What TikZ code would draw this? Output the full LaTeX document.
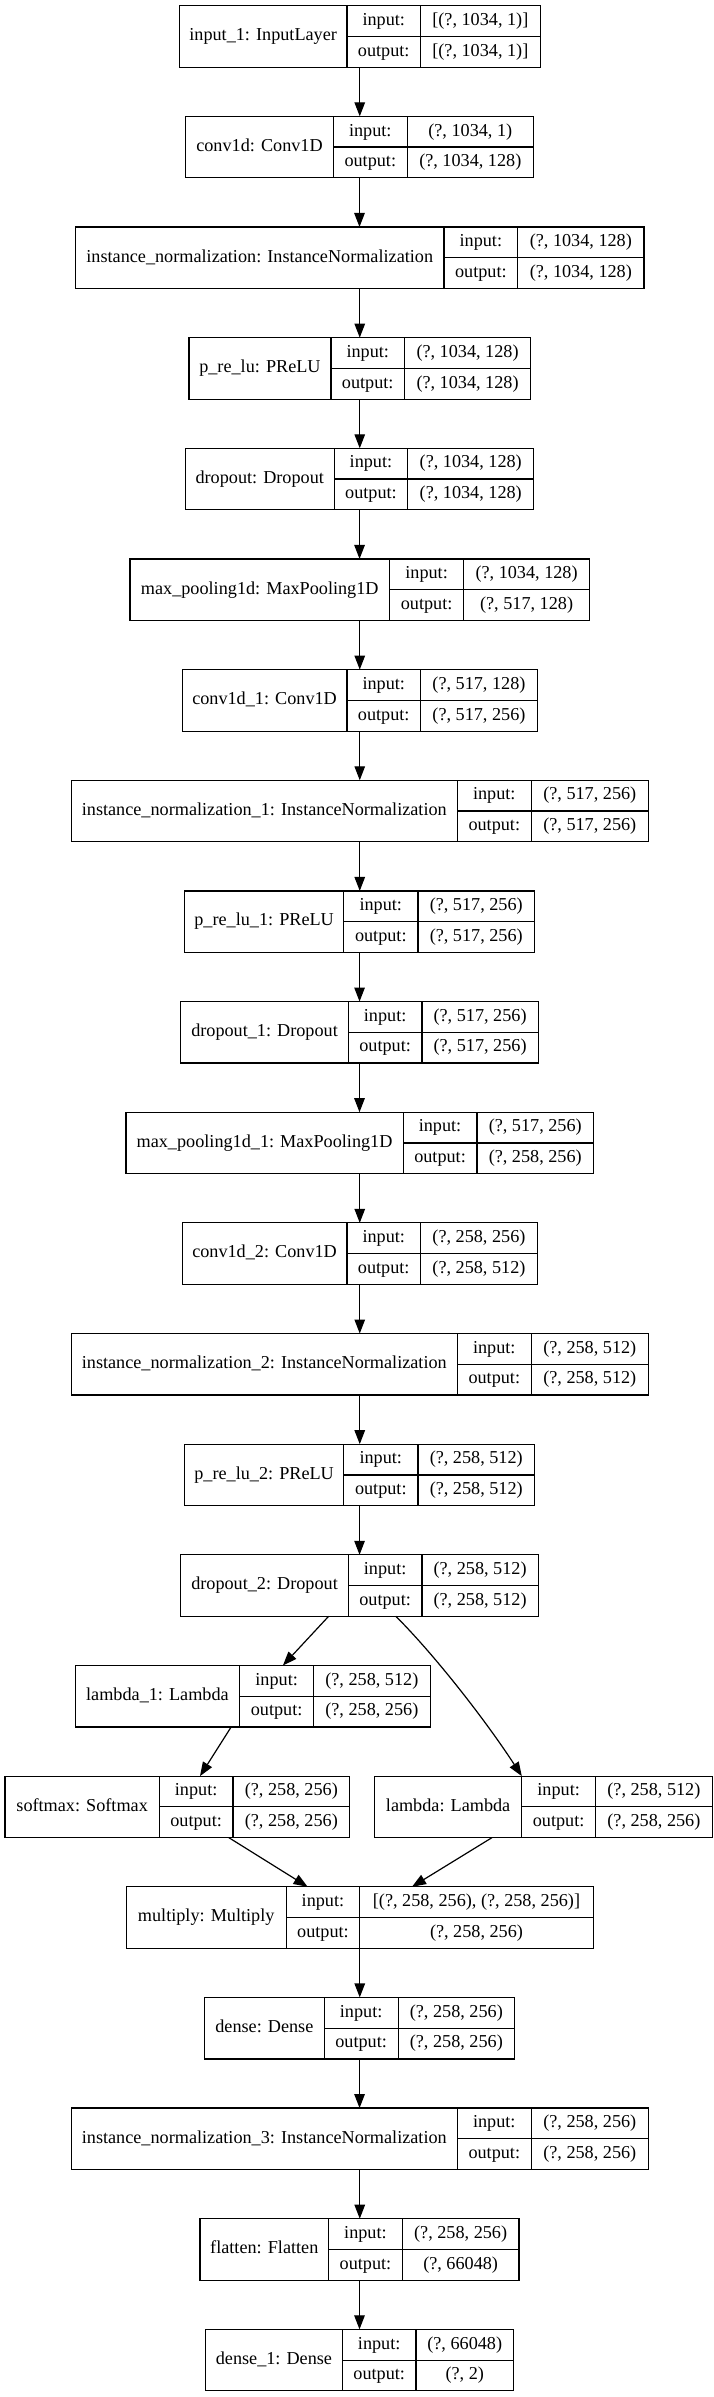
\documentclass[tikz,border=0pt]{standalone}
\usepackage{fontspec}
\setmainfont{Liberation Serif}
\usetikzlibrary{arrows.meta}
\newcommand\layer[9]{%
  \pgfmathsetmacro\lyt{5.7+(#2-1)*110.65}%
  \pgfmathsetmacro\lyb{\lyt+61.5}%
  \pgfmathsetmacro\lym{\lyt+30.75}%
  \pgfmathsetmacro\lxc{(#3+#6)/2}%
  \pgfmathsetmacro\lbw{#6-#3}%
  \pgfmathsetmacro\lxa{(#3+#4)/2}%
  \pgfmathsetmacro\lxb{(#4+#5)/2}%
  \pgfmathsetmacro\lxv{(#5+#6)/2}%
  \node[box, minimum width=\lbw pt] (#1) at (\lxc,\lym) {};
  \draw[cell] (#4,\lyt) -- (#4,\lyb) (#5,\lyt) -- (#5,\lyb) (#4,\lym) -- (#6,\lym);
  \node[lbl] (#1-t) at (\lxa,\lym+4.3) {#7};
  \node[lbl] (#1-il) at (\lxb,\lym-15.375+4.3) {input:};
  \node[lbl] (#1-ol) at (\lxb,\lym+15.375+4.3) {output:};
  \node[lbl] (#1-iv) at (\lxv,\lym-15.375+4.3) {#8};
  \node[lbl] (#1-ov) at (\lxv,\lym+15.375+4.3) {#9};
}
\begin{document}
\begin{tikzpicture}[x=1pt,y=-1pt,
  box/.style={draw=black, line width=1.2pt, minimum height=61.5pt, inner sep=0pt, outer sep=0pt},
  cell/.style={draw=black, line width=1.2pt},
  lbl/.style={anchor=base, inner sep=0pt, font=\fontsize{18.2}{20}\selectfont},
  arr/.style={draw=black, line width=1.2pt, -{Triangle[length=14pt,width=10.5pt]}}]
\useasboundingbox[fill=white] (0,0) rectangle (714,2397);
\layer{in1}{1}{179.4}{346.9}{420.6}{540.1}{input\_1: InputLayer}{[(?, 1034, 1)]}{[(?, 1034, 1)]}
\layer{c0}{2}{185.8}{333.2}{407.4}{533.2}{conv1d: Conv1D}{(?, 1034, 1)}{(?, 1034, 128)}
\layer{n0}{3}{75.5}{444.0}{517.7}{644.0}{instance\_normalization: InstanceNormalization}{(?, 1034, 128)}{(?, 1034, 128)}
\layer{p0}{4}{189.0}{330.9}{404.6}{530.5}{p\_re\_lu: PReLU}{(?, 1034, 128)}{(?, 1034, 128)}
\layer{d0}{5}{185.4}{334.1}{407.8}{533.7}{dropout: Dropout}{(?, 1034, 128)}{(?, 1034, 128)}
\layer{m0}{6}{130.0}{389.5}{463.7}{589.5}{max\_pooling1d: MaxPooling1D}{(?, 1034, 128)}{(?, 517, 128)}
\layer{c1}{7}{182.2}{346.9}{420.6}{537.3}{conv1d\_1: Conv1D}{(?, 517, 128)}{(?, 517, 256)}
\layer{n1}{8}{71.4}{457.2}{531.4}{648.1}{instance\_normalization\_1: InstanceNormalization}{(?, 517, 256)}{(?, 517, 256)}
\layer{p1}{9}{184.5}{343.7}{417.9}{534.6}{p\_re\_lu\_1: PReLU}{(?, 517, 256)}{(?, 517, 256)}
\layer{d1}{10}{180.8}{348.3}{422.0}{538.2}{dropout\_1: Dropout}{(?, 517, 256)}{(?, 517, 256)}
\layer{m1}{11}{125.9}{403.2}{476.9}{593.6}{max\_pooling1d\_1: MaxPooling1D}{(?, 517, 256)}{(?, 258, 256)}
\layer{c2}{12}{182.2}{346.9}{420.6}{537.3}{conv1d\_2: Conv1D}{(?, 258, 256)}{(?, 258, 512)}
\layer{n2}{13}{71.4}{457.2}{531.4}{648.1}{instance\_normalization\_2: InstanceNormalization}{(?, 258, 512)}{(?, 258, 512)}
\layer{p2}{14}{184.5}{343.7}{417.9}{534.6}{p\_re\_lu\_2: PReLU}{(?, 258, 512)}{(?, 258, 512)}
\layer{d2}{15}{180.8}{348.3}{422.0}{538.2}{dropout\_2: Dropout}{(?, 258, 512)}{(?, 258, 512)}
\layer{lam1}{16}{75.1}{239.8}{313.5}{430.2}{lambda\_1: Lambda}{(?, 258, 512)}{(?, 258, 256)}
\layer{sm}{17}{5.0}{159.3}{233.0}{349.7}{softmax: Softmax}{(?, 258, 256)}{(?, 258, 256)}
\layer{lam}{17}{374.4}{521.8}{595.5}{712.2}{lambda: Lambda}{(?, 258, 512)}{(?, 258, 256)}
\layer{mul}{18}{126.3}{286.1}{359.8}{593.2}{multiply: Multiply}{[(?, 258, 256), (?, 258, 256)]}{(?, 258, 256)}
\layer{de}{19}{204.6}{324.1}{398.2}{514.5}{dense: Dense}{(?, 258, 256)}{(?, 258, 256)}
\layer{n3}{20}{71.4}{457.2}{531.4}{648.1}{instance\_normalization\_3: InstanceNormalization}{(?, 258, 256)}{(?, 258, 256)}
\layer{fl}{21}{200.0}{328.6}{402.3}{519.0}{flatten: Flatten}{(?, 258, 256)}{(?, 66048)}
\layer{de1}{22}{205.5}{342.4}{416.0}{513.5}{dense\_1: Dense}{(?, 66048)}{(?, 2)}
% vertical connectors
\foreach \a/\b in {in1/c0,c0/n0,n0/p0,p0/d0,d0/m0,m0/c1,c1/n1,n1/p1,p1/d1,d1/m1,m1/c2,c2/n2,n2/p2,p2/d2,mul/de,de/n3,n3/fl,fl/de1}
  \draw[arr] (\a.south) -- (\a.south |- \b.north);
% branching connectors
\draw[arr] ([xshift=-30.9pt]d2.south) -- ([xshift=30.25pt]lam1.north);
\draw[arr] ([xshift=36.4pt]d2.south) .. controls +(40,40) and +(-35,-54) .. ([xshift=-21.5pt]lam.north);
\draw[arr] ([xshift=-21.5pt]lam1.south) -- ([xshift=22.65pt]sm.north);
\draw[arr] ([xshift=51.45pt]sm.south) -- ([xshift=-52.15pt]mul.north);
\draw[arr] ([xshift=-51.3pt]lam.south) -- ([xshift=52.25pt]mul.north);
\end{tikzpicture}
\end{document}
